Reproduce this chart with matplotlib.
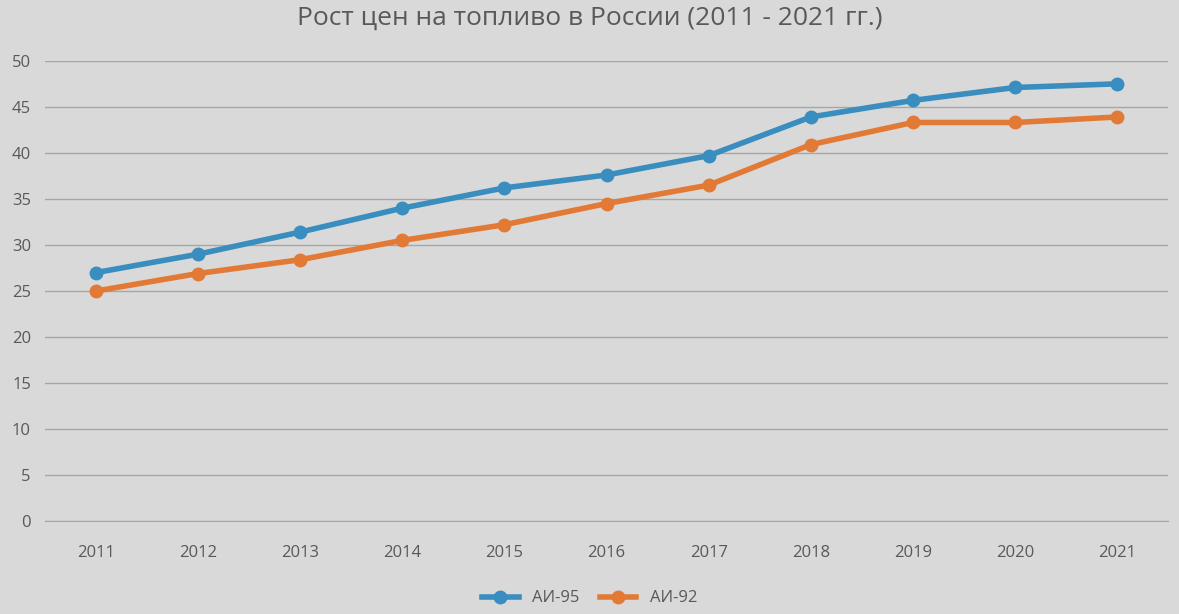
import matplotlib.pyplot as plt

years = ['2011', '2012', '2013', '2014', '2015', '2016', '2017', '2018', '2019', '2020', '2021']
ai95 = [27.0, 29.0, 31.4, 34.0, 36.2, 37.6, 39.7, 43.9, 45.7, 47.1, 47.5]
ai92 = [25.0, 26.9, 28.4, 30.5, 32.2, 34.5, 36.5, 40.9, 43.3, 43.3, 43.9]

plt.rcParams['font.family'] = 'Open Sans'
bg = '#d9d9d9'
fig = plt.figure(figsize=(11.79, 6.14), dpi=100, facecolor=bg)
ax = fig.add_axes([0.038, 0.151, 0.953, 0.75], facecolor=bg)

x = range(len(years))
ax.plot(x, ai95, color='#3a8dbf', lw=4, marker='o', ms=9, label='АИ-95')
ax.plot(x, ai92, color='#e27a36', lw=4, marker='o', ms=9, label='АИ-92')

ax.set_xlim(-0.5, len(years) - 0.5)
ax.set_ylim(0, 50)
ax.set_yticks(range(0, 51, 5))
ax.set_xticks(list(x))
ax.set_xticklabels(years)
ax.grid(axis='y', color='#a6a6a6', lw=1)
ax.set_axisbelow(True)
for s in ['top', 'right', 'left']:
    ax.spines[s].set_visible(False)
ax.spines['bottom'].set_color('#a6a6a6')
ax.tick_params(length=0, labelsize=12, colors='#595959', pad=10)
ax.tick_params(axis='x', pad=17)

fig.suptitle('Рост цен на топливо в России (2011 - 2021 гг.)', y=0.99,
             fontsize=19, color='#595959')
fig.legend(loc='lower center', bbox_to_anchor=(0.5, -0.012), ncol=2, frameon=False,
           fontsize=12, labelcolor='#595959', handlelength=2.2, columnspacing=1.2)

fig.savefig('out.png', facecolor=bg)
